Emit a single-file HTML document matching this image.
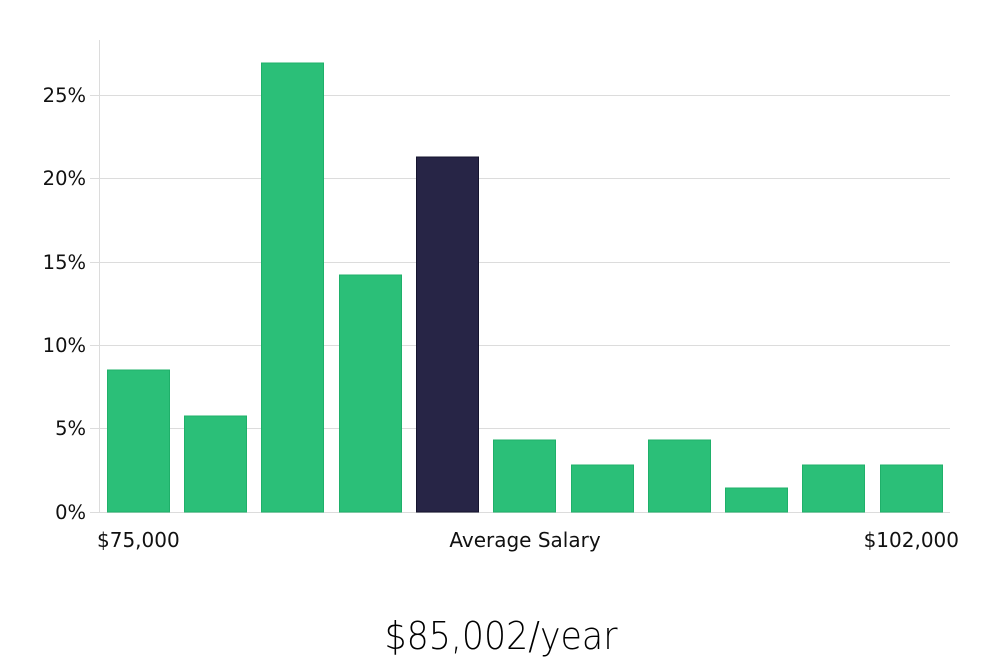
<!DOCTYPE html>
<html><head><meta charset="utf-8"><style>
html,body{margin:0;padding:0;background:#fff;width:1000px;height:660px;overflow:hidden}
</style></head><body>
<svg width="1000" height="660" xmlns="http://www.w3.org/2000/svg" font-family="DejaVu Sans, sans-serif">
<g stroke="#dcdcdc" stroke-width="1">
<line x1="100" y1="95.5" x2="950" y2="95.5"/>
<line x1="100" y1="178.5" x2="950" y2="178.5"/>
<line x1="100" y1="262.5" x2="950" y2="262.5"/>
<line x1="100" y1="345.5" x2="950" y2="345.5"/>
<line x1="100" y1="428.5" x2="950" y2="428.5"/>
<line x1="100" y1="512.5" x2="950" y2="512.5"/>
<line x1="99.5" y1="40" x2="99.5" y2="512"/>
<line x1="90" y1="95.5" x2="100" y2="95.5"/>
<line x1="90" y1="178.5" x2="100" y2="178.5"/>
<line x1="90" y1="262.5" x2="100" y2="262.5"/>
<line x1="90" y1="345.5" x2="100" y2="345.5"/>
<line x1="90" y1="428.5" x2="100" y2="428.5"/>
<line x1="90" y1="512.5" x2="100" y2="512.5"/>
</g>
<g font-size="19.5" fill="#111" text-anchor="end">
<text x="86" y="102">25%</text>
<text x="86" y="185">20%</text>
<text x="86" y="269">15%</text>
<text x="86" y="352">10%</text>
<text x="86" y="435">5%</text>
<text x="86" y="519">0%</text>
</g>
<g fill="#2bbf78" stroke="#1fb06a" stroke-width="1">
<rect x="107.5" y="370" width="62" height="142"/>
<rect x="184.5" y="416" width="62" height="96"/>
<rect x="261.5" y="63" width="62" height="449"/>
<rect x="339.5" y="275" width="62" height="237"/>
<rect x="416.5" y="157" width="62" height="355" fill="#272546" stroke="#15142e"/>
<rect x="493.5" y="440" width="62" height="72"/>
<rect x="571.5" y="465" width="62" height="47"/>
<rect x="648.5" y="440" width="62" height="72"/>
<rect x="725.5" y="488" width="62" height="24"/>
<rect x="802.5" y="465" width="62" height="47"/>
<rect x="880.5" y="465" width="62" height="47"/>
</g>
<g font-size="20" fill="#111">
<text x="97" y="547">$75,000</text>
<text x="525" y="547" text-anchor="middle">Average Salary</text>
<text x="959" y="547" text-anchor="end">$102,000</text>
</g>
<text x="0" y="0" font-family="DejaVu Sans, sans-serif" font-weight="300" font-size="38" fill="#000" text-anchor="middle" transform="translate(501,649) scale(0.915,1)">$85,002/year</text>
</svg>
</body></html>
